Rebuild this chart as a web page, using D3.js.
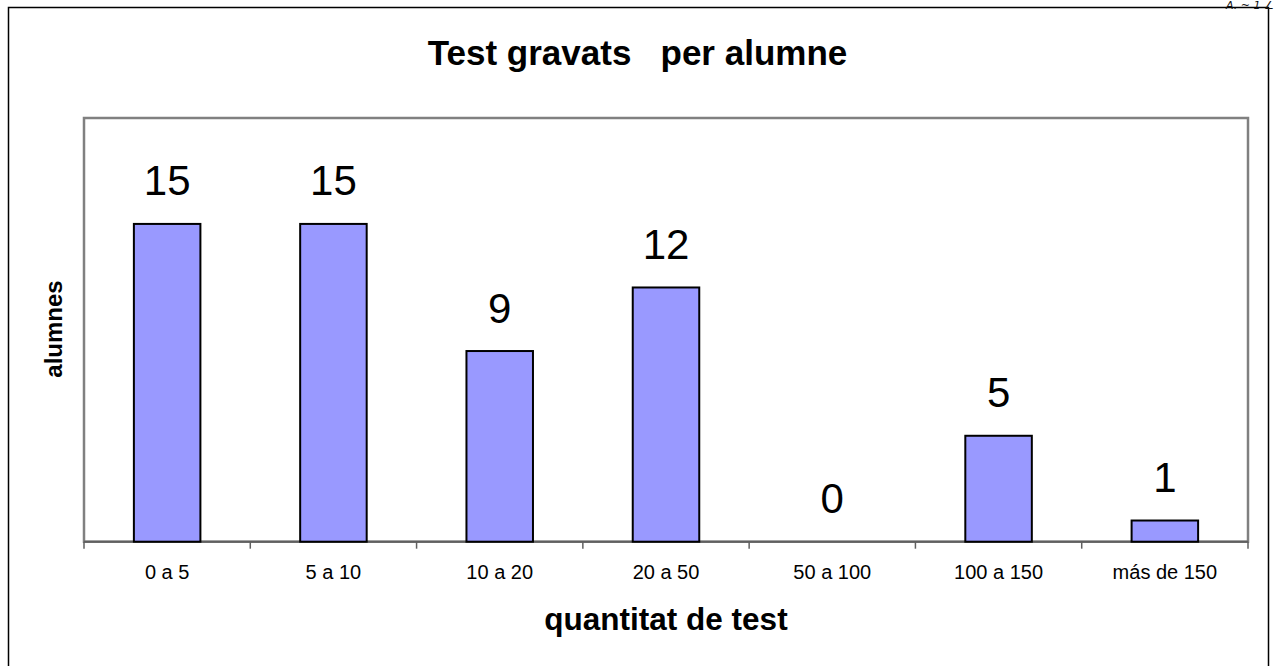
<!DOCTYPE html>
<html>
<head>
<meta charset="utf-8">
<script src="https://cdn.jsdelivr.net/npm/d3@7"></script>
<style>
  body { margin: 0; background: #fff; }
  text { font-family: Arial, "Liberation Sans", sans-serif; }
</style>
</head>
<body>
<div id="chart"></div>
<script>
// data
var categories = ["0 a 5", "5 a 10", "10 a 20", "20 a 50", "50 a 100", "100 a 150", "más de 150"];
var alumnes = [15, 15, 9, 12, 0, 5, 1];
var yDomain = [0, 20];

var W = 1274, H = 666;
var plot = { left: 84, right: 1248, top: 118, bottom: 541.7 };

var svg = d3.select("#chart").append("svg")
  .attr("width", W)
  .attr("height", H);

// outer chart border (runs past the bottom of the page)
svg.append("rect")
  .attr("x", 8.5).attr("y", 7.5)
  .attr("width", 1260).attr("height", 700)
  .attr("fill", "none")
  .attr("stroke", "#000")
  .attr("stroke-width", 1.5);

// handwritten scribble at the top right
svg.append("text")
  .attr("x", 1226).attr("y", 8.5)
  .style("font-family", "DejaVu Sans")
  .style("font-style", "italic")
  .style("font-size", "11px")
  .attr("fill", "#111")
  .text("A. ~  1 ∠");

// plot area
svg.append("rect")
  .attr("x", plot.left).attr("y", plot.top)
  .attr("width", plot.right - plot.left)
  .attr("height", plot.bottom - plot.top)
  .attr("fill", "none")
  .attr("stroke", "#808080")
  .attr("stroke-width", 2.5);

var x = d3.scaleBand()
  .domain(categories)
  .range([plot.left, plot.right])
  .paddingInner(0.6)
  .paddingOuter(0.3);

var y = d3.scaleLinear()
  .domain(yDomain)
  .range([plot.bottom, plot.top]);

// X axis: ticks at category boundaries
var step = x.step();
var xAxis = svg.append("g")
  .attr("transform", "translate(0," + plot.bottom + ")");

xAxis.append("line")
  .attr("x1", plot.left).attr("x2", plot.right)
  .attr("stroke", "#606060")
  .attr("stroke-width", 2);

xAxis.selectAll("line.tick")
  .data(d3.range(categories.length + 1))
  .enter().append("line")
  .attr("class", "tick")
  .attr("x1", d => plot.left + d * step)
  .attr("x2", d => plot.left + d * step)
  .attr("y1", 0).attr("y2", 7)
  .attr("stroke", "#606060")
  .attr("stroke-width", 1.5);

xAxis.selectAll("text")
  .data(categories)
  .enter().append("text")
  .attr("x", d => x(d) + x.bandwidth() / 2)
  .attr("y", 37.5)
  .attr("text-anchor", "middle")
  .style("font-size", "20px")
  .text(d => d);

// bars
svg.append("g")
  .selectAll("rect")
  .data(alumnes)
  .enter().append("rect")
  .attr("x", (d, i) => x(categories[i]))
  .attr("y", d => y(d))
  .attr("width", x.bandwidth())
  .attr("height", d => y(0) - y(d))
  .attr("fill", "#9999ff")
  .attr("stroke", d => d > 0 ? "#000" : "none")
  .attr("stroke-width", 2);

// value labels
svg.append("g")
  .selectAll("text")
  .data(alumnes)
  .enter().append("text")
  .attr("x", (d, i) => x(categories[i]) + x.bandwidth() / 2)
  .attr("y", d => y(d) - 28.5)
  .attr("text-anchor", "middle")
  .style("font-size", "42px")
  .text(d => d);

// titles
svg.append("text")
  .attr("x", 637.5).attr("y", 65)
  .attr("text-anchor", "middle")
  .attr("xml:space", "preserve")
  .style("white-space", "pre")
  .style("font-size", "35px")
  .style("font-weight", "bold")
  .text("Test gravats   per alumne");

svg.append("text")
  .attr("x", 666).attr("y", 629.5)
  .attr("text-anchor", "middle")
  .style("font-size", "31.5px")
  .style("font-weight", "bold")
  .text("quantitat de test");

svg.append("text")
  .attr("transform", "translate(62,329) rotate(-90)")
  .attr("text-anchor", "middle")
  .style("font-size", "24px")
  .style("font-weight", "bold")
  .text("alumnes");
</script>
</body>
</html>
